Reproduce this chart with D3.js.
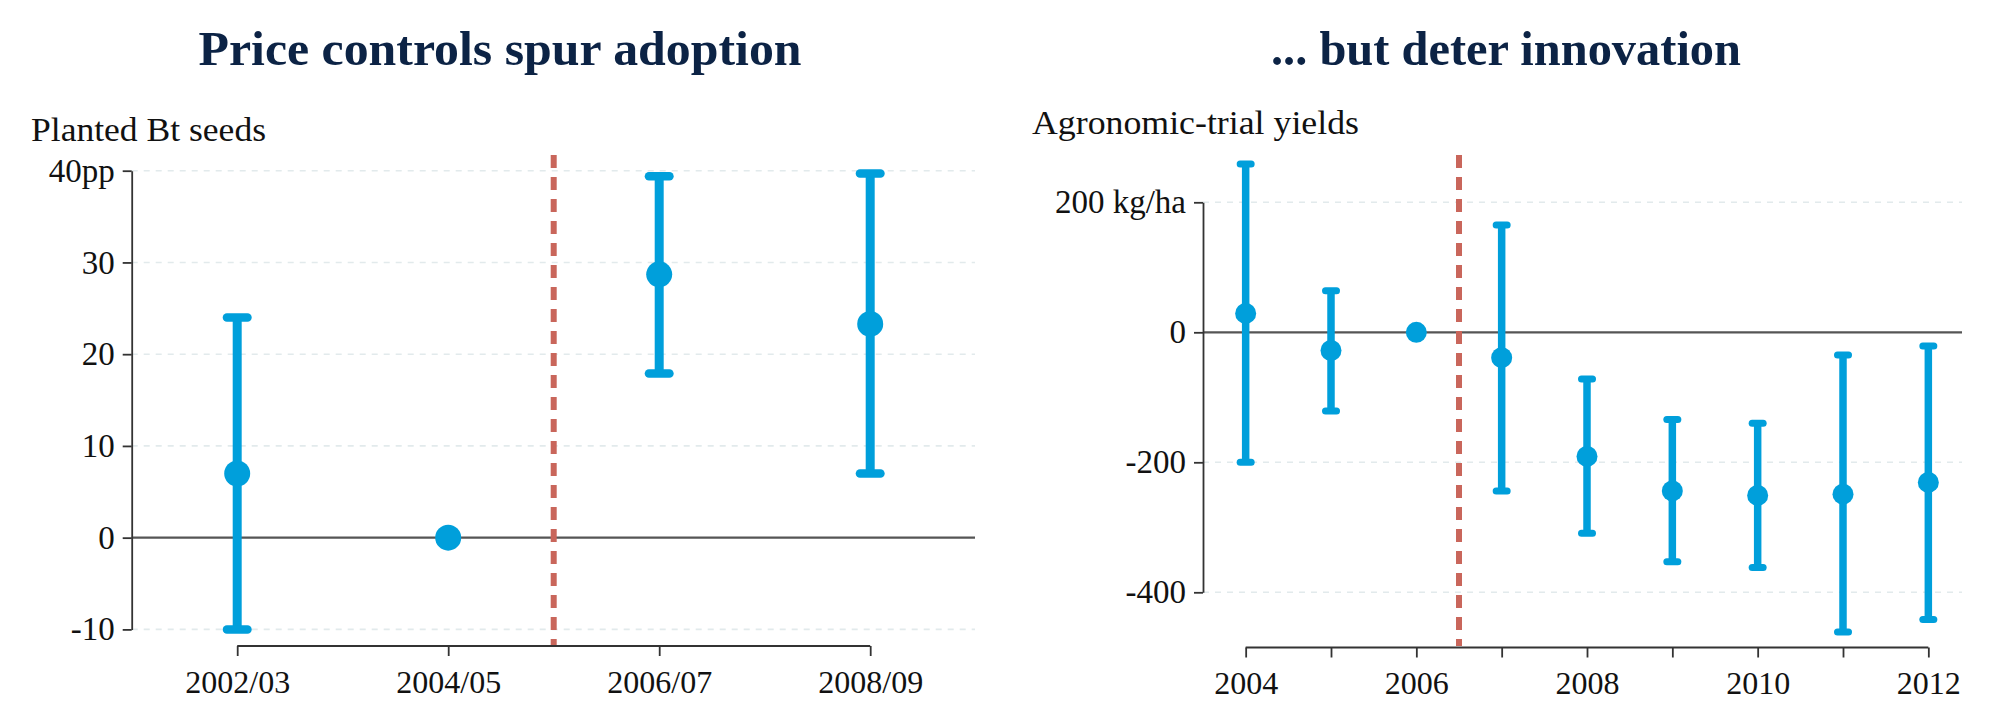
<!DOCTYPE html>
<html>
<head>
<meta charset="utf-8">
<script src="https://cdn.jsdelivr.net/npm/d3@7"></script>
<style>
  html, body { margin: 0; padding: 0; background: #ffffff; }
  svg { display: block; }
  text { font-family: "Palatino Linotype", "Book Antiqua", Palatino, "Liberation Serif", serif; }
</style>
</head>
<body>
<svg id="chart" width="2000" height="728"></svg>
<script>
// ---------------- DATA ----------------
const leftTitle = "Price controls spur adoption";
const leftAxisTitle = "Planted Bt seeds";
const leftCats = ["2002/03", "2004/05", "2006/07", "2008/09"];
const leftEst  = [7.0, 0, 28.7, 23.3];
const leftLo   = [-10.0, null, 17.9, 7.0];
const leftHi   = [24.0, null, 39.4, 39.7];
const leftTicks = [-10, 0, 10, 20, 30, 40];
const leftTickLabels = ["-10", "0", "10", "20", "30", "40pp"];

const rightTitle = "... but deter innovation";
const rightAxisTitle = "Agronomic-trial yields";
const rightYears = [2004, 2005, 2006, 2007, 2008, 2009, 2010, 2011, 2012];
const rightEst   = [29, -28, 0, -39, -191, -244, -251, -249, -231];
const rightLo    = [-200, -121, null, -244, -309, -353, -362, -461, -442];
const rightHi    = [259, 64, null, 165, -72, -134, -140, -35, -21];
const rightTicks = [-400, -200, 0, 200];
const rightTickLabels = ["-400", "-200", "0", "200 kg/ha"];
const rightLabelYears = [2004, 2006, 2008, 2010, 2012];

// ---------------- STYLE ----------------
const BLUE = "#009fdb";
const RED = "#c9665b";
const GRID = "#e2eaec";
const AXIS = "#333333";
const ZERO = "#555555";
const TITLE = "#0c2345";
const SERIF = '"Liberation Serif", serif';

const svg = d3.select("#chart");
const plotTop = 155, xAxisY = 646;

function title(txt, cx, len) {
  svg.append("text").attr("x", cx).attr("y", 65)
    .attr("text-anchor", "middle").attr("font-size", 48).attr("font-weight", "bold")
    .attr("textLength", len).attr("lengthAdjust", "spacingAndGlyphs")
    .attr("fill", TITLE).style("font-family", SERIF).text(txt);
}

function yAxis(g, y, ticks, labels) {
  const ax = d3.axisLeft(y).tickValues(ticks).tickSize(9).tickSizeOuter(0).tickPadding(8)
    .tickFormat((d, i) => labels[i]);
  g.call(ax);
  g.select(".domain").attr("stroke", AXIS).attr("stroke-width", 1.8);
  g.selectAll(".tick line").attr("stroke", AXIS).attr("stroke-width", 1.8);
  g.selectAll(".tick text").attr("font-size", 33).attr("fill", "#111")
    .style("font-family", SERIF);
}

function grid(g, y, ticks, x0, x1) {
  g.selectAll("line.grid").data(ticks.filter(t => t !== 0)).join("line")
    .attr("class", "grid")
    .attr("x1", x0).attr("x2", x1)
    .attr("y1", d => y(d)).attr("y2", d => y(d))
    .attr("stroke", GRID).attr("stroke-width", 1.6).attr("stroke-dasharray", "6,6");
  g.append("line").attr("x1", x0).attr("x2", x1).attr("y1", y(0)).attr("y2", y(0))
    .attr("stroke", ZERO).attr("stroke-width", 2.2);
}

function errorBars(g, xs, est, lo, hi, x, y, lw, capW, capH, r) {
  const data = xs.map((c, i) => ({ c, e: est[i], lo: lo[i], hi: hi[i] }));
  const withCI = data.filter(d => d.lo !== null);
  g.selectAll("line.ci").data(withCI).join("line").attr("class", "ci")
    .attr("x1", d => x(d.c)).attr("x2", d => x(d.c))
    .attr("y1", d => y(d.lo)).attr("y2", d => y(d.hi))
    .attr("stroke", BLUE).attr("stroke-width", lw);
  const caps = [];
  withCI.forEach(d => { caps.push({ c: d.c, v: d.lo }); caps.push({ c: d.c, v: d.hi }); });
  g.selectAll("rect.cap").data(caps).join("rect").attr("class", "cap")
    .attr("x", d => x(d.c) - capW / 2).attr("y", d => y(d.v) - capH / 2)
    .attr("width", capW).attr("height", capH).attr("rx", capH / 2).attr("ry", capH / 2)
    .attr("fill", BLUE);
  g.selectAll("circle.pt").data(data).join("circle").attr("class", "pt")
    .attr("cx", d => x(d.c)).attr("cy", d => y(d.e)).attr("r", r)
    .attr("fill", BLUE);
}

function redLine(g, xv) {
  g.append("line").attr("x1", xv).attr("x2", xv).attr("y1", plotTop).attr("y2", xAxisY)
    .attr("stroke", RED).attr("stroke-width", 6).attr("stroke-dasharray", "13,9");
}

function axisTitle(txt, x, yb, len) {
  svg.append("text").attr("x", x).attr("y", yb).attr("font-size", 34).attr("fill", "#111")
    .attr("textLength", len).attr("lengthAdjust", "spacingAndGlyphs")
    .style("font-family", SERIF).text(txt);
}

function xAxisStyle(ax) {
  ax.select(".domain").remove();
  ax.selectAll(".tick line").attr("stroke", AXIS).attr("stroke-width", 1.8);
  ax.selectAll(".tick text").attr("font-size", 32).attr("fill", "#111")
    .style("font-family", SERIF);
}

// ---------------- LEFT PANEL ----------------
title(leftTitle, 500, 603);
const lx = d3.scalePoint().domain(leftCats).range([131.7, 975.7]).padding(0.5);
const ly = d3.scaleLinear().domain([-10, 40]).range([629.4, 170.7]);
const L = svg.append("g");
grid(L, ly, leftTicks, 131.7, 975);
redLine(L, (lx("2004/05") + lx("2006/07")) / 2);
const lxa = L.append("g").attr("transform", `translate(0,${xAxisY})`)
  .call(d3.axisBottom(lx).tickSize(10).tickPadding(14));
xAxisStyle(lxa);
lxa.append("line").attr("x1", lx(leftCats[0])).attr("x2", lx(leftCats[leftCats.length - 1]))
  .attr("stroke", AXIS).attr("stroke-width", 1.8);
yAxis(L.append("g").attr("transform", "translate(131.7,0)"), ly, leftTicks, leftTickLabels);
errorBars(L, leftCats, leftEst, leftLo, leftHi, lx, ly, 9, 29, 8.5, 13);
axisTitle(leftAxisTitle, 31, 141, 235);

// ---------------- RIGHT PANEL ----------------
title(rightTitle, 1506, 470);
const rx = d3.scaleLinear().domain([2003.5, 2012.5]).range([1203, 1971]);
const ry = d3.scaleLinear().domain([-400, 200]).range([592.3, 202.3]);
const R = svg.append("g");
grid(R, ry, rightTicks, 1203, 1962);
redLine(R, rx(2006.5));
const rxa = R.append("g").attr("transform", `translate(0,${xAxisY + 1.5})`)
  .call(d3.axisBottom(rx).tickValues(rightYears).tickSize(10).tickPadding(14)
    .tickFormat(d => rightLabelYears.includes(d) ? String(d) : ""));
xAxisStyle(rxa);
rxa.append("line").attr("x1", rx(rightYears[0])).attr("x2", rx(rightYears[rightYears.length - 1]))
  .attr("stroke", AXIS).attr("stroke-width", 1.8);
yAxis(R.append("g").attr("transform", "translate(1203,0)"), ry, rightTicks, rightTickLabels);
errorBars(R, rightYears, rightEst, rightLo, rightHi, rx, ry, 7.5, 18, 7, 10.5);
axisTitle(rightAxisTitle, 1032, 134, 327);
</script>
</body>
</html>
